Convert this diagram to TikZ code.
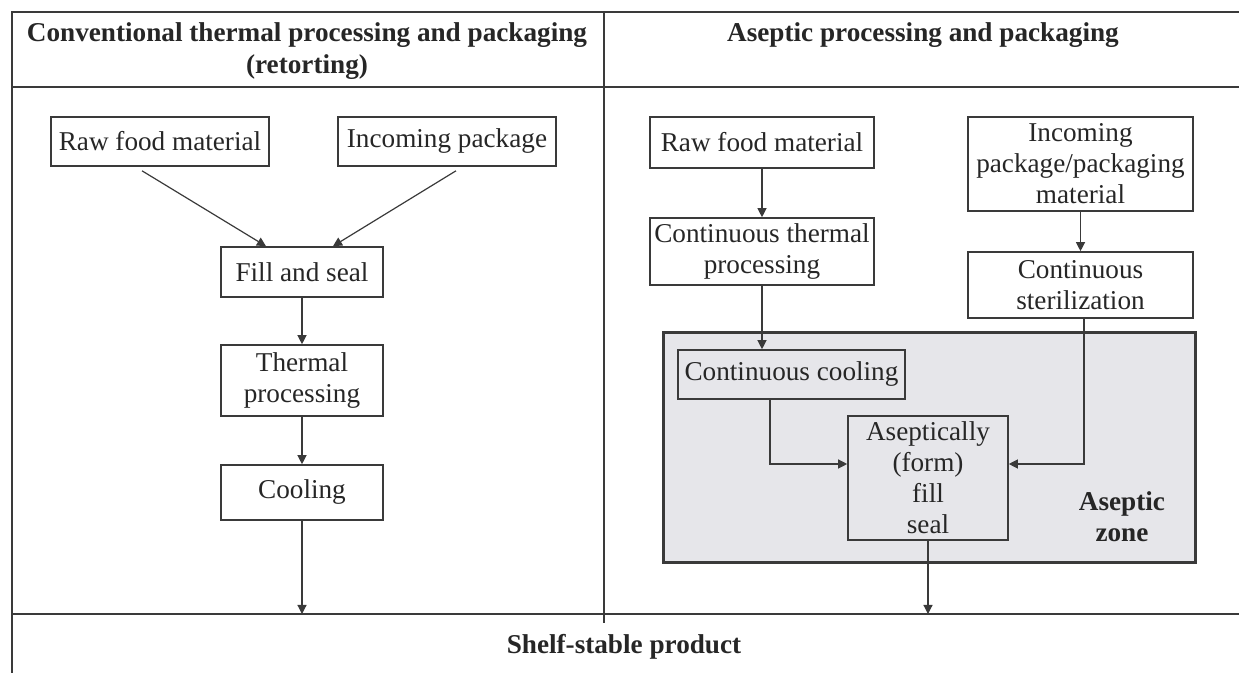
\documentclass[tikz,border=0pt]{standalone}
\usepackage{fontspec}
\setmainfont{Liberation Serif}
\usetikzlibrary{arrows.meta}
\definecolor{linegray}{HTML}{3A3A3A}
\definecolor{textgray}{HTML}{262626}
\definecolor{zonegray}{HTML}{E6E6EA}
\tikzset{
  stage/.style={draw=linegray, line width=0.8pt, align=center, inner sep=1pt,
    text=textgray, font=\fontsize{13.6}{15.5}\selectfont},
  heading/.style={align=center, text=textgray, font=\bfseries\fontsize{13.6}{16}\selectfont},
  flow/.style={draw=linegray, line width=0.6pt, -{Triangle[length=4.5pt,width=4.5pt]}},
  rule/.style={draw=linegray, line width=1.2pt},
  zone/.style={draw=linegray, line width=1.5pt, fill=zonegray},
}
\begin{document}
\begin{tikzpicture}[x=0.5pt,y=-0.5pt]
  \useasboundingbox (0,0) rectangle (1239,673);
  \coordinate (shelf) at (0,614);
  \draw[rule] (1239,12) -- (12,12) -- (12,673);
  \draw[rule] (12,87) -- (1239,87);
  \draw[rule] (12,614) -- (1239,614);
  \draw[rule] (604,12) -- (604,623);
  \draw[zone] (663,333) rectangle (1195,563);
  \path
    (307,51) node[heading] (titleL) {Conventional thermal processing and packaging\\(retorting)}
    (923,35) node[heading] (titleR) {Aseptic processing and packaging}
    (624,647) node[heading] (product) {Shelf-stable product}
    (1122,517) node[heading, font=\bfseries\fontsize{13.6}{15.5}\selectfont] (zonelabel) {Aseptic\\zone}
    (160,141.5) node[stage, minimum width=109pt, minimum height=24.5pt] (rawL) {Raw food material}
    (447,141.5) node[stage, minimum width=109pt, minimum height=24.5pt] (incL) {Incoming package}
    (302,272) node[stage, minimum width=81pt, minimum height=25pt] (fill) {Fill and seal}
    (302,380.5) node[stage, minimum width=81pt, minimum height=35.5pt] (therm) {Thermal\\processing}
    (302,492.5) node[stage, minimum width=81pt, minimum height=27.5pt] (cool) {Cooling}
    (762,142.5) node[stage, minimum width=112pt, minimum height=25.5pt] (rawR) {Raw food material}
    (762,251.5) node[stage, minimum width=112pt, minimum height=33.5pt] (ctherm) {Continuous thermal\\processing}
    (1080.5,164) node[stage, minimum width=112.5pt, minimum height=47pt] (incR) {Incoming\\package/packaging\\material}
    (1080.5,285) node[stage, minimum width=112.5pt, minimum height=33pt] (steril) {Continuous\\sterilization}
    (791.5,374.5) node[stage, minimum width=113.5pt, minimum height=24.5pt] (ccool) {Continuous cooling}
    (928,478) node[stage, minimum width=80pt, minimum height=62pt] (asep) {Aseptically\\(form)\\fill\\seal};
  \begin{scope}[flow]
    \draw ([xshift=-9pt,yshift=-2pt]rawL.south) -- ([xshift=-18pt]fill.north);
    \draw ([xshift=4.5pt,yshift=-2pt]incL.south) -- ([xshift=15.5pt]fill.north);
    \draw (fill.south) -- (therm.north);
    \draw (therm.south) -- (cool.north);
    \draw (cool.south) -- (cool.south |- shelf);
    \draw (rawR.south) -- (ctherm.north);
    \draw (incR.south) -- (steril.north);
    \draw (ctherm.south) -- (ctherm.south |- ccool.north);
    \draw ([xshift=-10.75pt]ccool.south) |- ([yshift=7pt]asep.west);
    \draw ([xshift=1.75pt]steril.south) |- ([yshift=7pt]asep.east);
    \draw (asep.south) -- (asep.south |- shelf);
  \end{scope}
\end{tikzpicture}
\end{document}
